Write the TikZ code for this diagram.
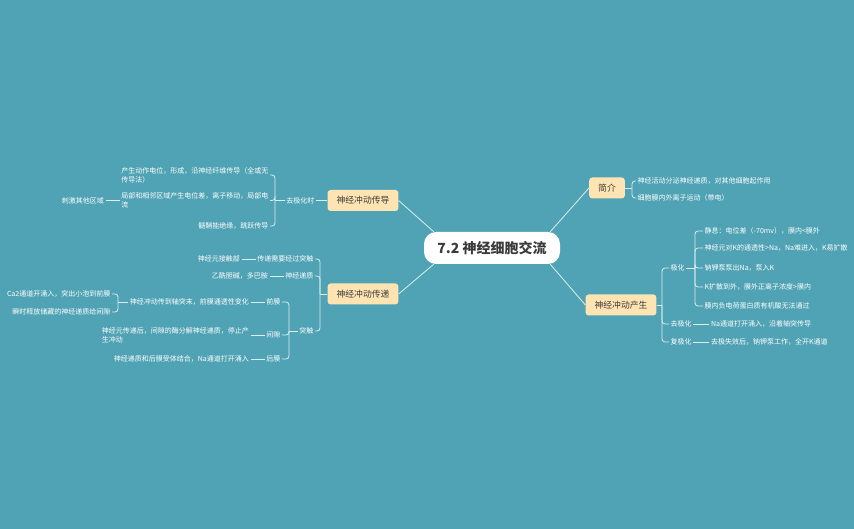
\documentclass[tikz,border=0pt]{standalone}
\usepackage{fontspec}
\setmainfont{Noto Sans CJK SC}
\usetikzlibrary{positioning}
\definecolor{bgcol}{HTML}{50A3B4}
\definecolor{topicfill}{HTML}{FFE4B3}
\definecolor{topictext}{HTML}{3B3B3B}
\definecolor{linecol}{HTML}{DCEEF1}

\begin{document}
\begin{tikzpicture}[
    x=1pt, y=-1pt,
    root/.style={rectangle, fill=white, rounded corners=12pt, minimum width=136pt, minimum height=32pt, font=\fontsize{14}{16}\selectfont\bfseries, text=topictext},
    topic/.style={rectangle, fill=topicfill, rounded corners=3pt, minimum height=21pt, inner xsep=9pt, font=\fontsize{8.8}{10}\selectfont, text=topictext},
    leaf/.style={inner sep=1.5pt, align=left, text=white, font=\fontsize{7}{9}\selectfont},
    link/.style={draw=linecol, line width=0.8pt},
    branch/.style={link, rounded corners=3pt}
]
% Background
\fill[bgcol] (0,0) rectangle (854,529);
\useasboundingbox (0,0) rectangle (854,529);

% Root and main topics
\node[root] (root) at (492,248) {7.2 神经细胞交流};
\node[topic] (intro) at (607,188) {简介};
\node[topic] (origin) at (621,305) {神经冲动产生};
\node[topic] (conduct) at (363,200.5) {神经冲动传导};
\node[topic] (transmit) at (363,294) {神经冲动传递};

% Intro
\coordinate (introfork) at (632,188);
\node[leaf, anchor=west] (intro1) at (636,181) {神经活动分泌神经递质，对其他细胞起作用};
\node[leaf, anchor=west] (intro2) at (636,198) {细胞膜内外离子运动（带电）};

% Origin
\coordinate (originfork) at (662,305);
\node[leaf, anchor=west] (polar) at (669,268) {极化};
\node[leaf, anchor=west] (depolar) at (669,324) {去极化};
\node[leaf, anchor=west] (repolar) at (669,342) {复极化};
\node[leaf, right=16pt of depolar] (depolar1) {Na通道打开涌入，沿着轴突传导};
\node[leaf, right=16pt of repolar] (repolar1) {去极失效后，钠钾泵工作，全开K通道};
\coordinate (polarfork) at (695,268);
\node[leaf, anchor=west] (polar1) at (703,231) {静息：电位差（-70mv），膜内<膜外};
\node[leaf, anchor=west] (polar2) at (703,248) {神经元对K的通透性>Na，Na难进入，K易扩散};
\node[leaf, anchor=west] (polar3) at (703,268) {钠钾泵泵出Na，泵入K};
\node[leaf, anchor=west] (polar4) at (703,287) {K扩散到外，膜外正离子浓度>膜内};
\node[leaf, anchor=west] (polar5) at (703,306) {膜内负电荷蛋白质有机酸无法通过};

% Conduction
\node[leaf, anchor=east] (depol) at (316,200.5) {去极化时};
\coordinate (depolfork) at (275,200.5);
\node[leaf, anchor=east] (cond1) at (270,175) {产生动作电位，形成，沿神经纤维传导（全或无\\传导法）};
\node[leaf, anchor=east] (cond2) at (270,200.5) {局部和相邻区域产生电位差，离子移动，局部电\\流};
\node[leaf, anchor=east] (cond3) at (270,226) {髓鞘能绝缘，跳跃传导};
\node[leaf, left=14pt of cond2] (cond2a) {刺激其他区域};

% Transmission
\coordinate (transfork) at (320,294);
\node[leaf, anchor=east] (trans1) at (315,259) {传递需要经过突触};
\node[leaf, left=14pt of trans1] (trans1a) {神经元接触部};
\node[leaf, anchor=east] (trans2) at (315,276) {神经递质};
\node[leaf, left=14pt of trans2] (trans2a) {乙酰胆碱，多巴胺};
\node[leaf, anchor=east] (synapse) at (315,331) {突触};
\coordinate (synfork) at (289,331);
\node[leaf, anchor=east] (pre) at (282,302) {前膜};
\node[leaf, left=14pt of pre] (pre1) {神经冲动传到轴突末，前膜通透性变化};
\coordinate (prefork) at (118,302);
\node[leaf, anchor=east] (pre1a) at (112,294) {Ca2通道开涌入，突出小泡到前膜};
\node[leaf, anchor=east] (pre1b) at (112,312) {瞬时释放储藏的神经递质给间隙};
\node[leaf, anchor=east] (cleft) at (282,335) {间隙};
\node[leaf, left=14pt of cleft] (cleft1) {神经元传递后，间隙的酶分解神经递质，停止产\\生冲动};
\node[leaf, anchor=east] (post) at (282,359) {后膜};
\node[leaf, left=14pt of post] (post1) {神经递质和后膜受体结合，Na通道打开涌入};

% Connectors from root
\draw[link] ([xshift=-10pt]root.north east) -- (intro.west);
\draw[link] ([xshift=-10pt]root.south east) -- (origin.west);
\draw[link] ([xshift=10pt]root.north west) -- (conduct.east);
\draw[link] ([xshift=10pt]root.south west) -- (transmit.east);

% Right brackets
\draw[link] (intro.east) -- (introfork);
\foreach \n in {intro1,intro2} \draw[branch] (introfork) |- (\n.west);
\draw[link] (origin.east) -- (originfork);
\foreach \n in {polar,depolar,repolar} \draw[branch] (originfork) |- (\n.west);
\draw[link] (polar.east) -- (polarfork);
\foreach \n in {polar1,polar2,polar3,polar4,polar5} \draw[branch] (polarfork) |- (\n.west);
\draw[link] (depolar) -- (depolar1);
\draw[link] (repolar) -- (repolar1);

% Left brackets
\draw[link] (conduct.west) -- (depol.east);
\draw[link] (depol.west) -- (depolfork);
\foreach \n in {cond1,cond2,cond3} \draw[branch] (depolfork) |- (\n.east);
\draw[link] (cond2) -- (cond2a);
\draw[link] (transmit.west) -- (transfork);
\foreach \n in {trans1,trans2,synapse} \draw[branch] (transfork) |- (\n.east);
\draw[link] (trans1) -- (trans1a);
\draw[link] (trans2) -- (trans2a);
\draw[link] (synapse.west) -- (synfork);
\foreach \n in {pre,cleft,post} \draw[branch] (synfork) |- (\n.east);
\draw[link] (pre) -- (pre1);
\draw[link] (cleft) -- (cleft1);
\draw[link] (post) -- (post1);
\draw[link] (pre1.west) -- (prefork);
\foreach \n in {pre1a,pre1b} \draw[branch] (prefork) |- (\n.east);
\end{tikzpicture}
\end{document}
